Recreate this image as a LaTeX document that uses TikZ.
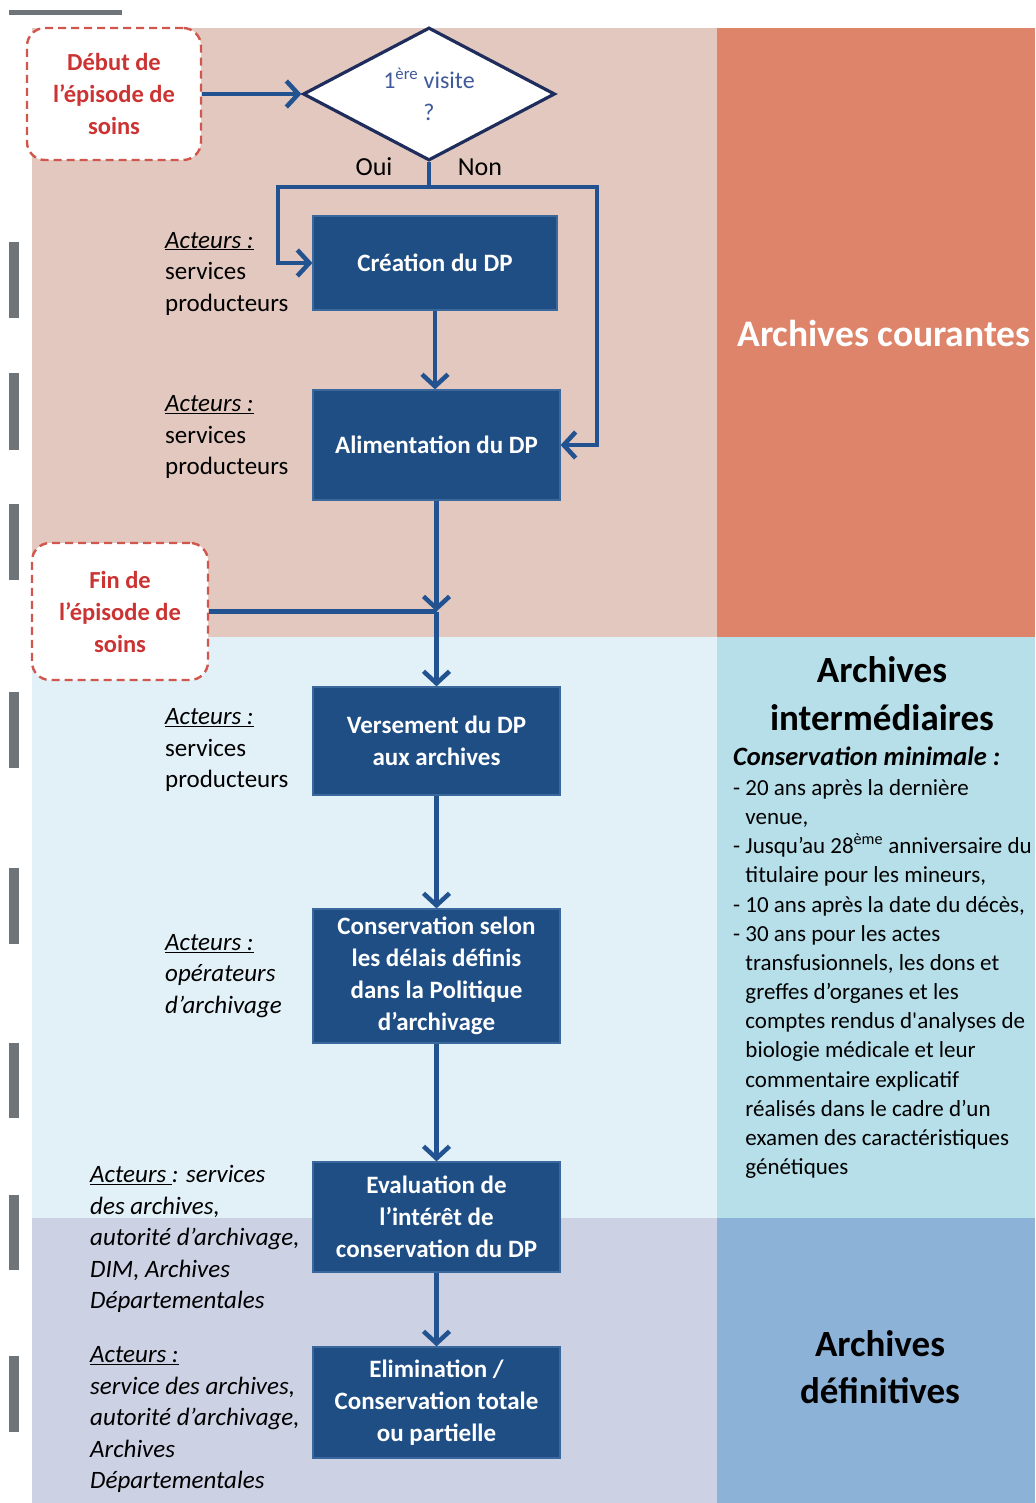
\documentclass[tikz,border=0pt]{standalone}
\usepackage{fontspec}
\setmainfont{Carlito}
\usetikzlibrary{arrows.meta,shapes.geometric}
\definecolor{bgA}{HTML}{E2C8BE}
\definecolor{bgAr}{HTML}{DE846A}
\definecolor{bgB}{HTML}{E2F1F7}
\definecolor{bgBr}{HTML}{B6DFE9}
\definecolor{bgC}{HTML}{CDD1E4}
\definecolor{bgCr}{HTML}{8DB2D8}
\definecolor{markgray}{HTML}{6E7477}
\definecolor{boxblue}{HTML}{1F4E85}
\definecolor{boxedge}{HTML}{3A679C}
\definecolor{arrblue}{HTML}{22528F}
\definecolor{navy}{HTML}{1F2D5C}
\definecolor{qblue}{HTML}{3F5A9A}
\definecolor{dashred}{HTML}{D0574E}
\definecolor{redtxt}{HTML}{CC3333}
\newcommand{\ulact}[1]{\underline{#1}}
\tikzset{
  proc/.style={rectangle, fill=boxblue, draw=boxedge, line width=1.2pt, text=white,
    font=\bfseries\fontsize{25}{32}\selectfont, align=center, minimum width=247pt, inner sep=0pt},
  startend/.style={rectangle, rounded corners=18pt, draw=dashred, dash pattern=on 8pt off 5pt,
    line width=2.4pt, fill=white, text=redtxt, font=\bfseries\fontsize{24.5}{32}\selectfont,
    align=center, inner sep=0pt},
  actor/.style={align=left, anchor=west, inner sep=0pt, font=\fontsize{25}{31.5}\selectfont},
  iactor/.style={actor, font=\itshape\fontsize{25}{31.5}\selectfont},
  conn/.style={draw=arrblue, line width=4.5pt},
  arr/.style={conn, -{Straight Barb[length=12pt,width=26pt]}},
  lbl/.style={inner sep=0pt, font=\fontsize{26}{30}\selectfont},
}
\begin{document}
\begin{tikzpicture}[x=1pt,y=-1pt]
\useasboundingbox (0,0) rectangle (1035,1503);
% backgrounds
\fill[bgA] (32,28) rectangle (717,637);
\fill[bgAr] (717,28) rectangle (1035,637);
\fill[bgB] (32,637) rectangle (717,1218);
\fill[bgBr] (717,637) rectangle (1035,1218);
\fill[bgC] (32,1218) rectangle (717,1503);
\fill[bgCr] (717,1218) rectangle (1035,1503);
% margin marks
\fill[markgray] (9,10) rectangle (122,15);
\foreach \a/\b in {242/318,373/450,504/580,692/768,868/944,1043/1118,1195/1270,1356/1432}
  \fill[markgray] (9,\a) rectangle (19,\b);
% start/end boxes
\node[startend, minimum width=174pt, minimum height=132pt] (debut) at (114,94) {Début de\\l’épisode de\\soins};
\node[startend, minimum width=176pt, minimum height=137pt] (fin) at (120,611.5) {Fin de\\l’épisode de\\soins};
% decision
\node[diamond, draw=navy, line width=3.2pt, fill=white, minimum width=252pt, minimum height=133pt,
  shape aspect=1.9, inner sep=0pt, text=qblue, font=\fontsize{24}{32}\selectfont, align=center]
  (q) at (429,94) {1\textsuperscript{ère} visite\\?};
\node[lbl] (oui) at (374,167) {Oui};
\node[lbl] (non) at (480,167) {Non};
% process boxes
\node[proc, minimum width=244pt, minimum height=94pt] (crea) at (435,263) {Création du DP};
\node[proc, minimum height=110pt] (alim) at (436.5,445) {Alimentation du DP};
\node[proc, minimum height=108pt] (vers) at (436.5,741) {Versement du DP\\aux archives};
\node[proc, minimum height=134pt] (cons) at (436.5,976) {Conservation selon\\les délais définis\\dans la Politique\\d’archivage};
\node[proc, minimum height=110pt] (eval) at (436.5,1217) {Evaluation de\\l’intérêt de\\conservation du DP};
\node[proc, minimum height=111pt] (elim) at (436.5,1402.5) {Elimination /\\Conservation totale\\ou partielle};
% actors
\node[actor] (a1) at (165,273.5) {\textit{\ulact{Acteurs :}}\\services\\producteurs};
\node[actor] (a2) at (165,437) {\textit{\ulact{Acteurs :}}\\services\\producteurs};
\node[actor] (a3) at (165,750) {\textit{\ulact{Acteurs :}}\\services\\producteurs};
\node[iactor] (a4) at (165,976) {\ulact{Acteurs :}\\opérateurs\\d’archivage};
\node[iactor] (a5) at (90,1239) {\ulact{Acteurs }: services\\des archives,\\autorité d’archivage,\\DIM, Archives\\Départementales};
\node[iactor] (a6) at (90,1419.5) {\ulact{Acteurs :}\\service des archives,\\autorité d’archivage,\\Archives\\Départementales};
% right column
\node[inner sep=0pt, text=white, font=\bfseries\fontsize{37.5}{40}\selectfont] (ac) at (884,333) {Archives courantes};
\node[inner sep=0pt, align=center, font=\bfseries\fontsize{37}{48}\selectfont] (ai) at (882,694) {Archives\\intermédiaires};
\node[inner sep=0pt, anchor=west, font=\bfseries\itshape\fontsize{26.5}{30}\selectfont] (cm) at (733,756) {Conservation minimale :};
\node[inner sep=0pt, anchor=west, align=left, font=\fontsize{23}{29.15}\selectfont] (list) at (733,979)
{- 20 ans après la dernière\\
\phantom{- }venue,\\
- Jusqu’au 28\textsuperscript{ème} anniversaire du\\
\phantom{- }titulaire pour les mineurs,\\
- 10 ans après la date du décès,\\
- 30 ans pour les actes\\
\phantom{- }transfusionnels, les dons et\\
\phantom{- }greffes d’organes et les\\
\phantom{- }comptes rendus d\textquotesingle analyses de\\
\phantom{- }biologie médicale et leur\\
\phantom{- }commentaire explicatif\\
\phantom{- }réalisés dans le cadre d’un\\
\phantom{- }examen des caractéristiques\\
\phantom{- }génétiques};
\node[inner sep=0pt, align=center, font=\bfseries\fontsize{37}{47}\selectfont] (ad) at (880,1367.5) {Archives\\définitives};
% connectors
\coordinate (split) at (429,187);
\coordinate (j) at (436.5,611.5);
\draw[arr] (debut.east) -- (q.west);
\draw[conn] (q.south) -- (split);
\draw[arr] (split) -- (278,187) -- (278,263) -- (crea.west);
\draw[arr] (split) -- (597,187) -- (597,445) -- (alim.east);
\draw[arr] (crea.south) -- (crea.south |- alim.north);
\draw[arr] (alim.south) -- (j);
\draw[conn] (fin.east) -- (j);
\draw[arr] (j) -- (vers.north);
\draw[arr] (vers.south) -- (cons.north);
\draw[arr] (cons.south) -- (eval.north);
\draw[arr] (eval.south) -- (elim.north);
\end{tikzpicture}
\end{document}
